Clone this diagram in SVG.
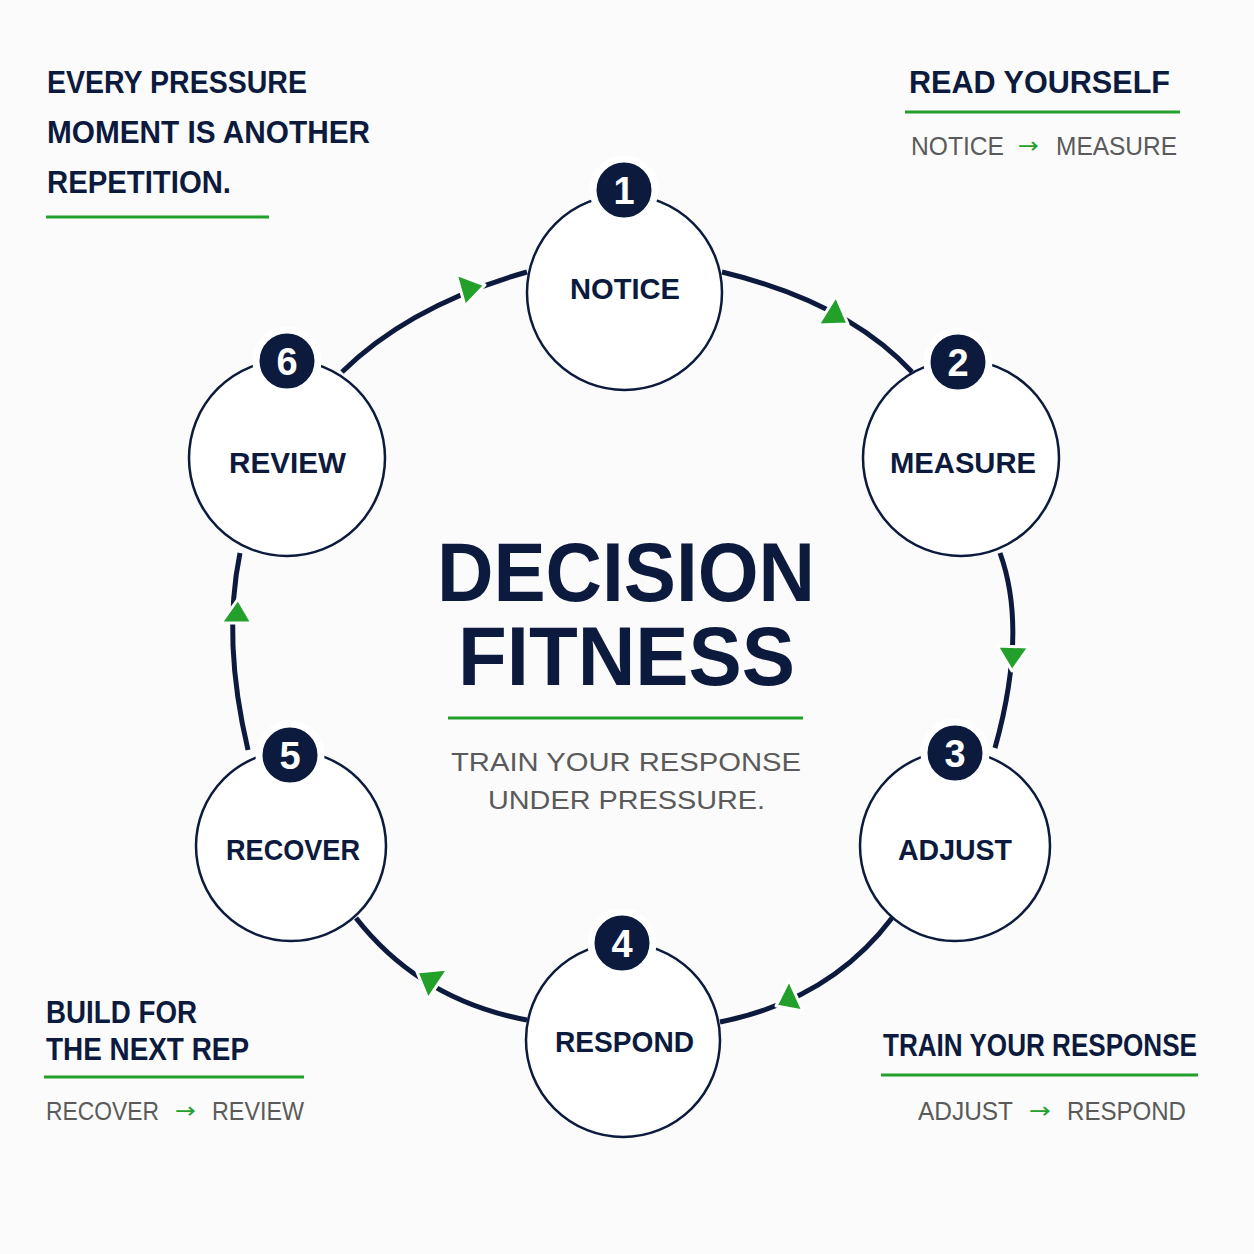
<svg xmlns="http://www.w3.org/2000/svg" width="1254" height="1254" viewBox="0 0 1254 1254">
<defs>
<style>
.bg{fill:#fbfbfb}
.conn{fill:none;stroke:#0c1a3d;stroke-width:5;stroke-linecap:butt}
.node{fill:#ffffff;stroke:#0c1a3d;stroke-width:2.5}
.badge{fill:#0c1a3d;stroke:#ffffff;stroke-width:7}
.num{fill:#ffffff;font-family:"Liberation Sans",Arial,sans-serif;font-weight:700;font-size:38px;text-anchor:middle}
.lbl{fill:#0c1a3d;font-family:"Liberation Sans",Arial,sans-serif;font-weight:700;font-size:30px;text-anchor:middle}
.head{fill:#0c1a3d;font-family:"Liberation Sans",Arial,sans-serif;font-weight:700;font-size:31px}
.sub{fill:#5a5a5a;font-family:"Liberation Sans",Arial,sans-serif;font-size:26px}
.ar{fill:#22a02a;font-family:"DejaVu Sans",sans-serif;font-size:22px}
.title{fill:#0c1a3d;font-family:"Liberation Sans",Arial,sans-serif;font-weight:700;font-size:83px;text-anchor:middle}
.rule{stroke:#22a02a;stroke-width:3}
.arr{fill:#22a02a;stroke:#ffffff;stroke-width:3;stroke-linejoin:round}
</style>
</defs>
<rect class="bg" x="0" y="0" width="1254" height="1254"/>

<g id="connectors">
<path class="conn" d="M722,272 Q847,302 912,372"/>
<path class="conn" d="M1000,553 Q1028,630 995,748"/>
<path class="conn" d="M892,918 Q830,1000 720,1022"/>
<path class="conn" d="M527,1020 Q420,1000 356,918"/>
<path class="conn" d="M248,750 Q222,640 240,553"/>
<path class="conn" d="M342,372 Q410,305 527,272"/>
<polygon class="arr" points="836,296 818,325 848,324"/>
<polygon class="arr" points="997,646 1029,647 1012,671"/>
<polygon class="arr" points="789,980 776,1006 803,1011"/>
<polygon class="arr" points="417,972 448,969 428,999"/>
<polygon class="arr" points="238,599 221,623 252,623"/>
<polygon class="arr" points="456,274 485,285 465,306"/>
</g>

<g id="node-notice">
<circle class="node" cx="624.5" cy="292.5" r="97.5"/>
<circle class="badge" cx="624" cy="190" r="31"/>
<text class="num" x="624" y="204">1</text>
<text class="lbl" x="625" y="299" textLength="110" lengthAdjust="spacingAndGlyphs">NOTICE</text>
</g>
<g id="node-measure">
<circle class="node" cx="961" cy="458" r="98"/>
<circle class="badge" cx="958" cy="362" r="31"/>
<text class="num" x="958" y="376">2</text>
<text class="lbl" x="963" y="473" textLength="146" lengthAdjust="spacingAndGlyphs">MEASURE</text>
</g>
<g id="node-adjust">
<circle class="node" cx="955" cy="846" r="95"/>
<circle class="badge" cx="955" cy="753" r="31"/>
<text class="num" x="955" y="767">3</text>
<text class="lbl" x="955" y="860" textLength="114" lengthAdjust="spacingAndGlyphs">ADJUST</text>
</g>
<g id="node-respond">
<circle class="node" cx="623" cy="1040" r="97"/>
<circle class="badge" cx="622" cy="943" r="31"/>
<text class="num" x="622" y="957">4</text>
<text class="lbl" x="624.5" y="1052" textLength="139" lengthAdjust="spacingAndGlyphs">RESPOND</text>
</g>
<g id="node-recover">
<circle class="node" cx="291" cy="846" r="95"/>
<circle class="badge" cx="290" cy="755" r="31"/>
<text class="num" x="290" y="769">5</text>
<text class="lbl" x="293" y="860" textLength="134" lengthAdjust="spacingAndGlyphs">RECOVER</text>
</g>
<g id="node-review">
<circle class="node" cx="287" cy="458" r="98"/>
<circle class="badge" cx="287" cy="361" r="31"/>
<text class="num" x="287" y="375">6</text>
<text class="lbl" x="287.5" y="473" textLength="117" lengthAdjust="spacingAndGlyphs">REVIEW</text>
</g>

<g id="center-title">
<text class="title" x="626" y="601" textLength="378" lengthAdjust="spacingAndGlyphs">DECISION</text>
<text class="title" x="626.5" y="685" textLength="337" lengthAdjust="spacingAndGlyphs">FITNESS</text>
<line class="rule" x1="448" y1="718" x2="803" y2="718"/>
<text class="sub" x="451" y="771" textLength="350" lengthAdjust="spacingAndGlyphs">TRAIN YOUR RESPONSE</text>
<text class="sub" x="488" y="809" textLength="277" lengthAdjust="spacingAndGlyphs">UNDER PRESSURE.</text>
</g>

<g id="top-left-note">
<text class="head" x="47" y="93" textLength="260" lengthAdjust="spacingAndGlyphs">EVERY PRESSURE</text>
<text class="head" x="47" y="143" textLength="323" lengthAdjust="spacingAndGlyphs">MOMENT IS ANOTHER</text>
<text class="head" x="47" y="193" textLength="184" lengthAdjust="spacingAndGlyphs">REPETITION.</text>
<line class="rule" x1="46" y1="217" x2="269" y2="217"/>
</g>

<g id="top-right-note">
<text class="head" x="909" y="93" textLength="261" lengthAdjust="spacingAndGlyphs">READ YOURSELF</text>
<line class="rule" x1="905" y1="112" x2="1180" y2="112"/>
<text class="sub" x="911" y="155" textLength="93" lengthAdjust="spacingAndGlyphs">NOTICE</text>
<text class="ar" x="1018" y="153" textLength="21" lengthAdjust="spacingAndGlyphs">→</text>
<text class="sub" x="1056" y="155" textLength="121" lengthAdjust="spacingAndGlyphs">MEASURE</text>
</g>

<g id="bottom-left-note">
<text class="head" x="46" y="1023" textLength="151" lengthAdjust="spacingAndGlyphs">BUILD FOR</text>
<text class="head" x="46" y="1060" textLength="203" lengthAdjust="spacingAndGlyphs">THE NEXT REP</text>
<line class="rule" x1="44" y1="1077" x2="304" y2="1077"/>
<text class="sub" x="46" y="1120" textLength="113" lengthAdjust="spacingAndGlyphs">RECOVER</text>
<text class="ar" x="175" y="1118" textLength="21" lengthAdjust="spacingAndGlyphs">→</text>
<text class="sub" x="212" y="1120" textLength="92" lengthAdjust="spacingAndGlyphs">REVIEW</text>
</g>

<g id="bottom-right-note">
<text class="head" x="883" y="1056" textLength="314" lengthAdjust="spacingAndGlyphs">TRAIN YOUR RESPONSE</text>
<line class="rule" x1="881" y1="1075" x2="1198" y2="1075"/>
<text class="sub" x="918" y="1120" textLength="95" lengthAdjust="spacingAndGlyphs">ADJUST</text>
<text class="ar" x="1029" y="1118" textLength="22" lengthAdjust="spacingAndGlyphs">→</text>
<text class="sub" x="1067" y="1120" textLength="119" lengthAdjust="spacingAndGlyphs">RESPOND</text>
</g>
</svg>
